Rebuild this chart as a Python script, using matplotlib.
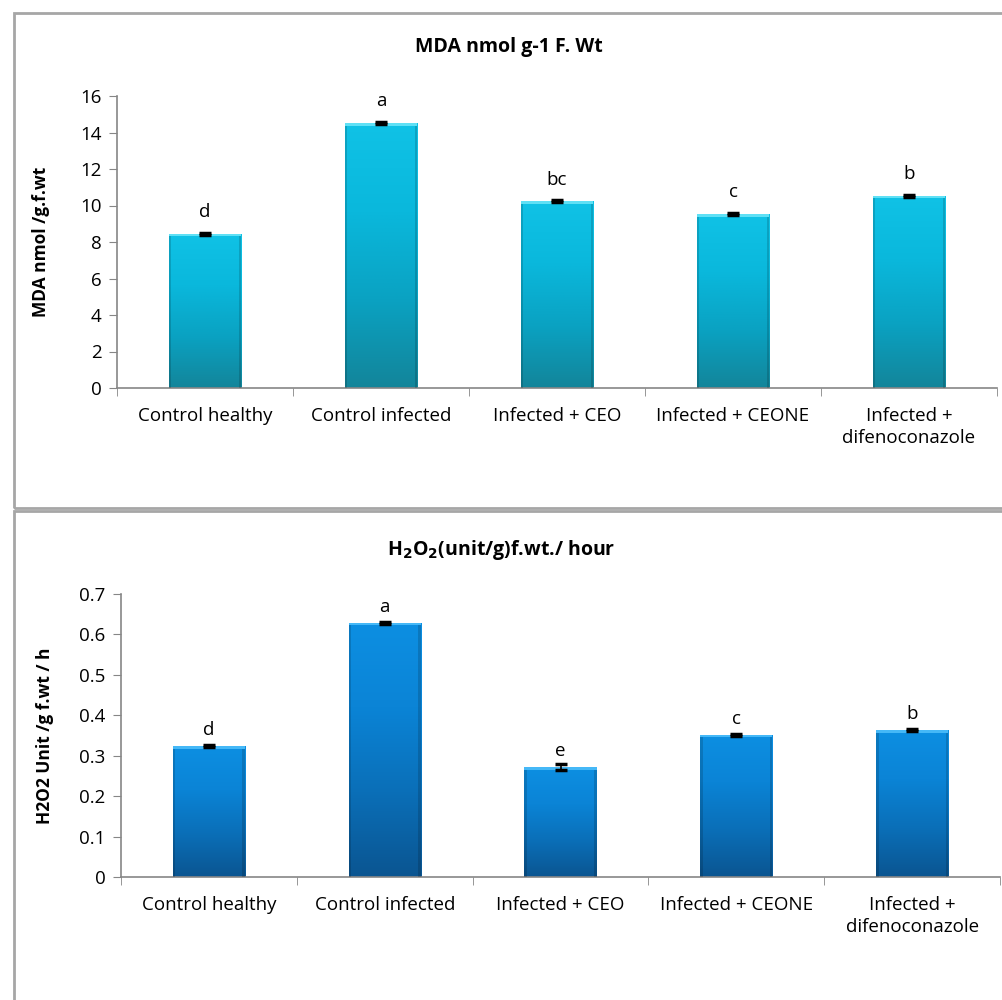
import numpy as np
import matplotlib.pyplot as plt
from matplotlib.patches import Rectangle
from matplotlib.colors import LinearSegmentedColormap

# -------------------------------
# DATA
# -------------------------------
categories = ["Control healthy", "Control infected", "Infected + CEO",
              "Infected + CEONE", "Infected +\ndifenoconazole"]

mda_values = [8.45, 14.52, 10.23, 9.52, 10.53]
mda_errors = [0.06, 0.06, 0.05, 0.05, 0.05]
mda_letters = ["d", "a", "bc", "c", "b"]

h2o2_values = [0.324, 0.629, 0.272, 0.352, 0.363]
h2o2_errors = [0.002, 0.002, 0.007, 0.002, 0.002]
h2o2_letters = ["d", "a", "e", "c", "b"]

plt.rcParams['font.family'] = ['Open Sans', 'DejaVu Sans']

fig = plt.figure(figsize=(10.03, 10), dpi=100)

# panel borders
for (y0, y1) in [(13, 508), (511, 1003)]:
    fig.patches.append(Rectangle((14 / 1003, 1 - y1 / 1000), 1, (y1 - y0) / 1000,
                                 transform=fig.transFigure, fill=False,
                                 edgecolor='#a6a6a6', linewidth=2))


def gradient_bars(ax, values, errors, letters, cols, bevel, ymax, off):
    x = np.arange(len(values))
    bars = ax.bar(x, values, width=0.41, color=cols[0], edgecolor='none', zorder=2)
    cmap = LinearSegmentedColormap.from_list('g', cols)
    grad = np.linspace(0, 1, 256).reshape(-1, 1)
    for b in bars:
        x0, w, h = b.get_x(), b.get_width(), b.get_height()
        im = ax.imshow(grad, cmap=cmap, origin='lower', aspect='auto',
                       extent=[x0, x0 + w, 0, h], zorder=2)
        im.set_clip_path(b)
        # darker side edges and bright top bevel
        ew = w * 0.035
        ax.fill_between([x0, x0 + ew], 0, h, color='black', alpha=0.15, zorder=3, linewidth=0)
        ax.fill_between([x0 + w - ew, x0 + w], 0, h, color='black', alpha=0.15, zorder=3, linewidth=0)
        ax.fill_between([x0, x0 + w], h - ymax * 0.009, h, color=bevel, zorder=3, linewidth=0)
    ax.errorbar(x, values, yerr=errors, fmt='none', ecolor='black',
                elinewidth=1.2, capsize=4, capthick=2.5, zorder=4)
    for xi, v, lab in zip(x, values, letters):
        ax.text(xi, v + off, lab, ha='center', va='bottom', fontsize=13.5)
    ax.set_xlim(-0.5, len(values) - 0.5)
    ax.set_ylim(0, ymax)
    ax.set_xticks(np.arange(len(values)))
    ax.set_xticklabels(categories, fontsize=13.5, linespacing=1.25)
    ax.set_xticks(np.arange(-0.5, len(values)), minor=True)
    ax.tick_params(axis='x', which='major', length=0, pad=14)
    ax.tick_params(axis='x', which='minor', length=6, color='#868686', direction='out')
    ax.tick_params(axis='y', length=6, color='#868686', labelsize=13.5, pad=5)
    for s in ['top', 'right']:
        ax.spines[s].set_visible(False)
    for s in ['left', 'bottom']:
        ax.spines[s].set_color('#868686')
        ax.spines[s].set_linewidth(1.2)


# -------------------------------
# TOP: MDA
# -------------------------------
ax1 = fig.add_axes([117 / 1003, 0.612, 880 / 1003, 0.292])
gradient_bars(ax1, mda_values, mda_errors, mda_letters,
              ['#13859a', '#0aa2c2', '#0ab8dc', '#10c2e6'], '#5fe0f5', 16, 0.7)
ax1.set_yticks(np.arange(0, 17, 2))
ax1.set_ylabel("MDA nmol /g.f.wt", fontsize=12.5, fontweight='bold', labelpad=22)
fig.text(0.507, 0.953, "MDA nmol g-1 F. Wt", ha='center', va='center',
         fontsize=14, fontweight='bold')

# -------------------------------
# BOTTOM: H2O2
# -------------------------------
ax2 = fig.add_axes([121 / 1003, 0.123, 879 / 1003, 0.283])
gradient_bars(ax2, h2o2_values, h2o2_errors, h2o2_letters,
              ['#0b5591', '#0a6fb8', '#0b84d6', '#0d8fe2'], '#45b8f7', 0.7, 0.017)
ax2.set_yticks(np.round(np.arange(0, 0.71, 0.1), 1))
ax2.set_yticklabels(["0", "0.1", "0.2", "0.3", "0.4", "0.5", "0.6", "0.7"])
ax2.set_ylabel("H2O2 Unit /g f.wt / h", fontsize=12.5, fontweight='bold', labelpad=18)
fig.text(0.5, 0.45, r"H$_\mathbf{2}$O$_\mathbf{2}$(unit/g)f.wt./ hour", ha='center',
         va='center', fontsize=14, fontweight='bold')

fig.savefig("out.png", dpi=100)
